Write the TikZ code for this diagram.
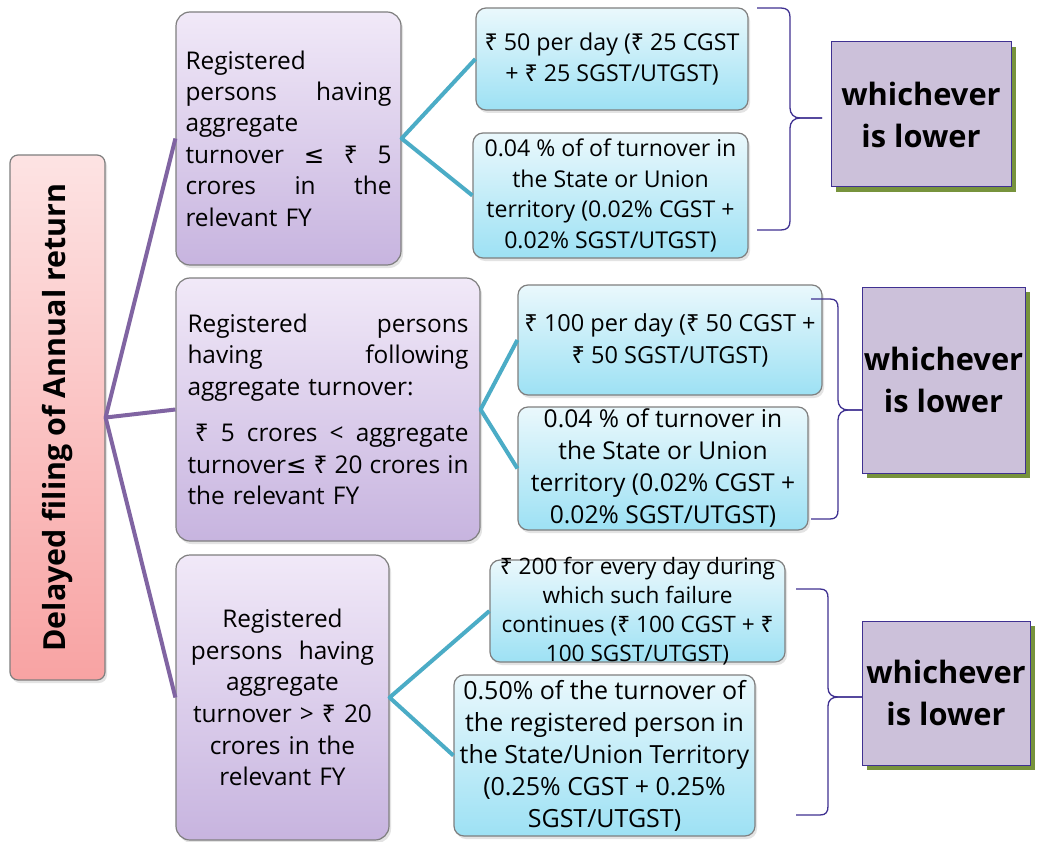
\documentclass[tikz,border=0pt]{standalone}
\usepackage{fontspec}
\usepackage{graphicx}
\setmainfont{Open Sans}
\newfontfamily\symfont{DejaVu Sans}
\newfontfamily\rupeefont{Noto Sans}
\newcommand\lesym{{\symfont ≤}}
\newcommand\rs{{\rupeefont ₹}}
\usetikzlibrary{shadows}

\definecolor{pinkTop}{HTML}{FDE3E3}
\definecolor{pinkBot}{HTML}{F8A3A3}
\definecolor{lavTop}{HTML}{F1E9F8}
\definecolor{lavBot}{HTML}{C7B4DF}
\definecolor{skyTop}{HTML}{EAF8FC}
\definecolor{skyBot}{HTML}{9DE1F4}
\definecolor{boxEdge}{HTML}{7F7F7F}
\definecolor{stemPurple}{HTML}{8064A2}
\definecolor{stemTeal}{HTML}{4BACC6}
\definecolor{braceInk}{HTML}{3F3191}
\definecolor{verdictFill}{HTML}{CCC1DA}
\definecolor{verdictShade}{HTML}{77933C}

\tikzset{
  box/.style={draw=boxEdge, line width=1.2pt, rounded corners=14pt, inner sep=0pt,
    drop shadow={opacity=0.22, shadow xshift=2pt, shadow yshift=-3pt}},
  rootbox/.style={box, rounded corners=8pt, top color=pinkTop, bottom color=pinkBot},
  casebox/.style={box, top color=lavTop, bottom color=lavBot},
  feebox/.style={box, rounded corners=10pt, top color=skyTop, bottom color=skyBot, align=center},
  feetext/.style={inner sep=0pt, align=center},
  verdict/.style={draw=braceInk, line width=1pt, fill=verdictFill, inner sep=0pt,
    general shadow={fill=verdictShade, shadow xshift=5pt, shadow yshift=-5pt},
    align=center, font=\fontsize{30.8}{42}\selectfont\bfseries},
  stem/.style={draw=stemPurple, line width=4pt, line join=round},
  branch/.style={draw=stemTeal, line width=4pt, line join=round},
  bracepath/.style={draw=braceInk, line width=1.3pt},
}

\begin{document}
\begin{tikzpicture}[x=1pt, y=-1pt]
\useasboundingbox (0,0) rectangle (1040,842);
\fill[white] (0,0) rectangle (1040,842);

% root
\node[rootbox, minimum width=95, minimum height=525] (root) at (57.5,417.5)
  {\rotatebox{90}{\fontsize{30.4}{33}\selectfont\bfseries Delayed filing of Annual return}};

% turnover cases
\node[casebox, minimum width=225, minimum height=253, text width=206, align=left,
      font=\fontsize{24.4}{31.4}\selectfont] (case1) at (288.5,138.5)
  {Registered\\persons\hfill having\\aggregate\\turnover\hfill \lesym\hfill \rs\hfill 5\\crores\hfill in\hfill the\\relevant FY};

\node[casebox, minimum width=304, minimum height=263, text width=281, align=left,
      font=\fontsize{24.4}{31.5}\selectfont] (case2) at (328,409.5)
  {Registered\hfill persons\\having\hfill following\\aggregate turnover:\\[15pt]\hspace*{0.3em}\rs\hfill 5\hfill crores\hfill <\hfill aggregate\\turnover\lesym\hfill \rs\hfill 20\hfill crores\hfill in\\the relevant FY};

\node[casebox, minimum width=213, minimum height=285, text width=205, align=center,
      font=\fontsize{24.4}{31.6}\selectfont] (case3) at (282.5,697.5)
  {Registered\\persons\ \ having\\aggregate\\turnover > \rs{} 20\\crores in the\\relevant FY};

% fee boxes
\node[feebox, minimum width=272, minimum height=102, font=\fontsize{23.2}{31}\selectfont]
  (fee1a) at (612,59) {\rs{} 50 per day (\rs{} 25 CGST\\+ \rs{} 25 SGST/UTGST)};
\node[feebox, minimum width=275, minimum height=125, font=\fontsize{23.1}{30.5}\selectfont]
  (fee1b) at (610.5,195.5) {0.04 \% of of turnover in\\the State or Union\\territory (0.02\% CGST +\\0.02\% SGST/UTGST)};

\node[feebox, minimum width=304, minimum height=110, font=\fontsize{23.5}{32}\selectfont]
  (fee2a) at (670,340) {\rs{} 100 per day (\rs{} 50 CGST +\\\rs{} 50 SGST/UTGST)};
\node[feebox, minimum width=290, minimum height=123, font=\fontsize{24.6}{32}\selectfont]
  (fee2b) at (663,468.5) {0.04 \% of turnover in\\the State or Union\\territory (0.02\% CGST +\\0.02\% SGST/UTGST)};

\node[feebox, minimum width=295, minimum height=102] (fee3a) at (637.5,611) {};
\node[feetext, font=\fontsize{22.6}{29}\selectfont] (fee3atext) at (fee3a.center)
  {\rs{} 200 for every day during\\which such failure\\continues (\rs{} 100 CGST + \rs\\100 SGST/UTGST)};
\node[feebox, minimum width=301, minimum height=161, font=\fontsize{25}{32}\selectfont]
  (fee3b) at (604.5,755.5) {0.50\% of the turnover of\\the registered person in\\the State/Union Territory\\(0.25\% CGST + 0.25\%\\SGST/UTGST)};

% verdict boxes
\node[verdict, minimum width=180, minimum height=145] (w1) at (921,114.5) {whichever\\is lower};
\node[verdict, minimum width=163, minimum height=186] (w2) at (943.5,380) {whichever\\is lower};
\node[verdict, minimum width=168, minimum height=144] (w3) at (946,693) {whichever\\is lower};

% connectors
\draw[stem] (case1.west) -- (root.east) -- (case2.west);
\draw[stem] (root.east) -- (case3.west);
\draw[branch] (fee1a.west) -- (case1.east) -- (fee1b.west);
\draw[branch] (fee2a.west) -- (case2.east) -- (fee2b.west);
\draw[branch] (fee3a.west) -- (case3.east) -- (fee3b.west);

% braces
\draw[bracepath] (757,8) -- (781,8) .. controls (787,8) and (790,11) .. (790,17) -- (790,108)
  .. controls (790,114) and (794,118) .. (800,118) -- (822,118);
\draw[bracepath] (822,118) -- (800,118) .. controls (794,118) and (790,122) .. (790,128)
  -- (790,221) .. controls (790,227) and (787,230) .. (781,230) -- (757,230);

\draw[bracepath] (811,299) -- (830,299) .. controls (836,299) and (838,302) .. (838,308) -- (838,400)
  .. controls (838,406) and (842,410) .. (848,410) -- (862,410);
\draw[bracepath] (862,410) -- (848,410) .. controls (842,410) and (838,414) .. (838,420)
  -- (838,510) .. controls (838,516) and (836,519) .. (830,519) -- (811,519);

\draw[bracepath] (796,589) -- (820,589) .. controls (826,589) and (828,592) .. (828,598) -- (828,688)
  .. controls (828,694) and (832,697) .. (838,697) -- (862,697);
\draw[bracepath] (862,697) -- (838,697) .. controls (832,697) and (828,700) .. (828,706)
  -- (828,806) .. controls (828,812) and (826,815) .. (820,815) -- (796,815);
\end{tikzpicture}
\end{document}
